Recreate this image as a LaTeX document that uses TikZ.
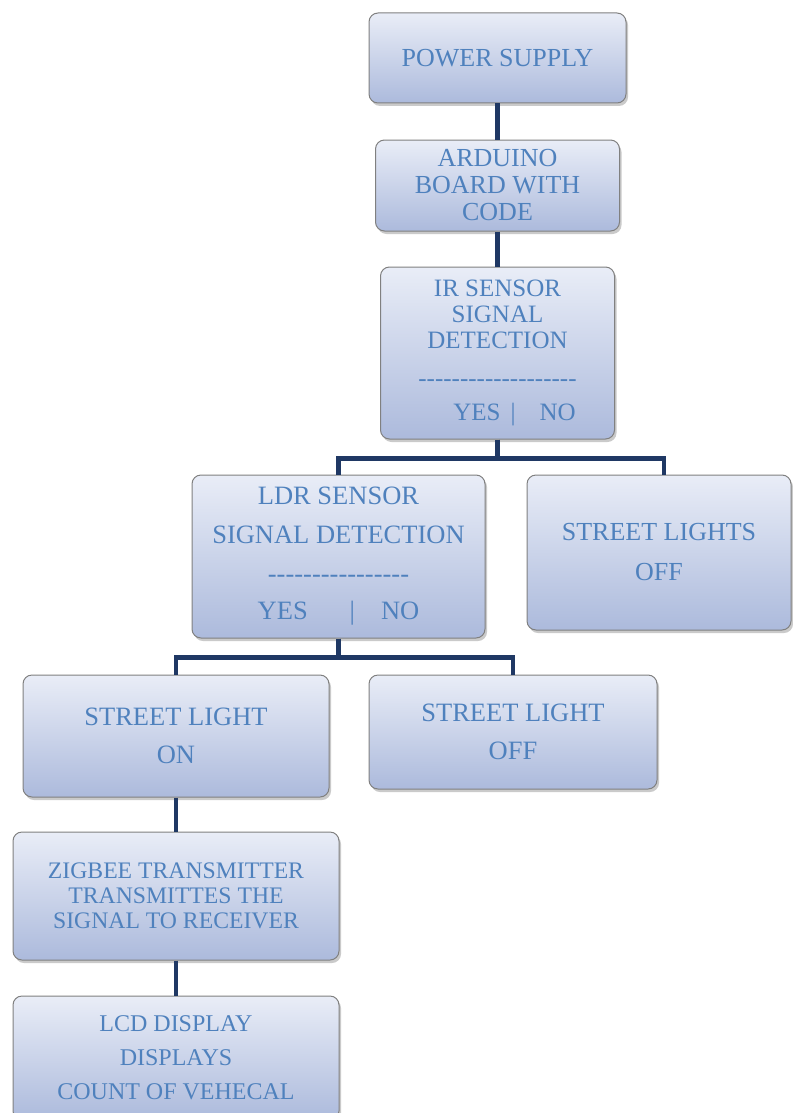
\documentclass[tikz,border=0pt]{standalone}
\usepackage{fontspec}
\setmainfont{Liberation Serif}
\usetikzlibrary{shadows}

\definecolor{boxtop}{RGB}{233,237,247}
\definecolor{boxbottom}{RGB}{172,186,220}
\definecolor{boxtext}{RGB}{79,129,189}
\definecolor{boxline}{RGB}{128,128,128}
\definecolor{wirecol}{RGB}{31,56,100}

\newcommand*{\dashrow}[1]{\foreach \k in {1,...,#1}{-\kern0pt}}

\tikzset{
    block/.style={draw=boxline, line width=1pt, rounded corners=9pt,
        top color=boxtop, bottom color=boxbottom, text=boxtext,
        align=center, inner sep=0pt,
        drop shadow={shadow xshift=2pt, shadow yshift=-3pt, opacity=0.35, fill=black!60}},
    wire/.style={draw=wirecol, line width=4.5pt},
}

\begin{document}
\begin{tikzpicture}[x=1pt,y=-1pt]
\useasboundingbox (0,0) rectangle (792,1113);

% blocks
\node[block, minimum width=257pt, minimum height=90pt, font=\fontsize{26}{30}\selectfont] (power) at (497.5,58) {POWER SUPPLY};
\node[block, minimum width=244pt, minimum height=91pt, font=\fontsize{26}{27}\selectfont] (arduino) at (497.5,185.5) {ARDUINO\\BOARD WITH\\CODE};
\node[block, minimum width=234pt, minimum height=172pt, font=\fontsize{25}{26}\selectfont] (ir) at (497.5,353)
    {IR SENSOR\\SIGNAL\\DETECTION\\[12pt]\dashrow{19}\\[8pt]\hspace*{34pt}YES\hspace{10pt}|\hspace{24pt}NO};
\node[block, minimum width=293pt, minimum height=163pt, font=\fontsize{26.5}{39}\selectfont] (ldr) at (338.5,556.5)
    {LDR SENSOR\\SIGNAL DETECTION\\\dashrow{16}\\[-2pt]YES\hspace{42pt}|\hspace{26pt}NO};
\node[block, minimum width=264pt, minimum height=155pt, font=\fontsize{26}{40}\selectfont] (offA) at (659,552.5) {STREET LIGHTS\\OFF};
\node[block, minimum width=306pt, minimum height=122pt, font=\fontsize{26.5}{38}\selectfont] (on) at (176,736) {STREET LIGHT\\ON};
\node[block, minimum width=288pt, minimum height=114pt, font=\fontsize{26.5}{38}\selectfont] (offB) at (513,732) {STREET LIGHT\\OFF};
\node[block, minimum width=326pt, minimum height=128pt, font=\fontsize{23.7}{25}\selectfont] (zigbee) at (176,896)
    {ZIGBEE TRANSMITTER\\TRANSMITTES THE\\SIGNAL TO RECEIVER};
\node[block, minimum width=326pt, minimum height=124pt, font=\fontsize{24}{34}\selectfont] (lcd) at (176,1058)
    {LCD DISPLAY\\DISPLAYS\\COUNT OF VEHECAL};

% connectors
\draw[wire] (power) -- (arduino);
\draw[wire] (arduino) -- (ir);
\draw[wire] (ir.south) -- ++(0,19) -| (ldr.north);
\draw[wire] (ir.south) -- ++(0,19) -| ([xshift=5pt]offA.north);
\draw[wire] (ldr.south) -- ++(0,19) -| (on.north);
\draw[wire] (ldr.south) -- ++(0,19) -| (offB.north);
\draw[wire] (on) -- (zigbee);
\draw[wire] (zigbee) -- (lcd);

\end{tikzpicture}
\end{document}
